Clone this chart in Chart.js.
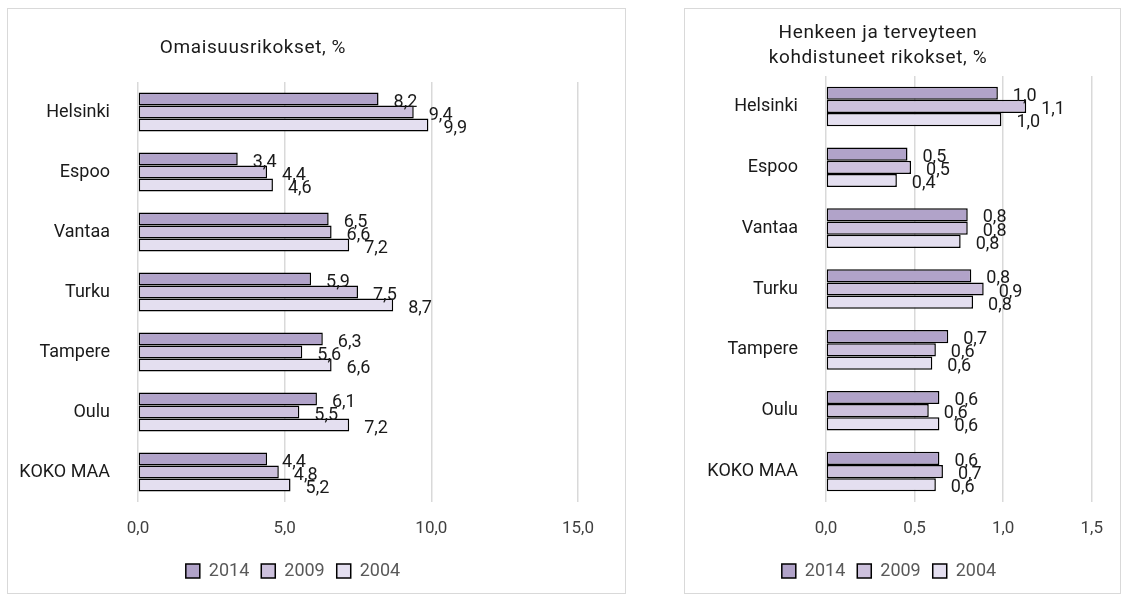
<!DOCTYPE html>
<html><head><meta charset="utf-8">
<script src="https://cdn.jsdelivr.net/npm/chart.js@4/dist/chart.umd.min.js"></script>
<style>
body{margin:0;background:#fff;width:1129px;height:598px;position:relative;overflow:hidden}
.box{position:absolute;border:1px solid #d9d9d9;background:#fff}
#b1{left:7px;top:8px;width:617px;height:584px}
#b2{left:684px;top:8px;width:435px;height:584px}
canvas{display:block}
</style></head><body>
<div class="box" id="b1"><canvas id="c1" width="617" height="584"></canvas></div>
<div class="box" id="b2"><canvas id="c2" width="435" height="584"></canvas></div>
<script>
const categories = ["Helsinki","Espoo","Vantaa","Turku","Tampere","Oulu","KOKO MAA"];
const seriesNames = ["2014","2009","2004"];
const property2014 = [8.2,3.4,6.5,5.9,6.3,6.1,4.4];
const property2009 = [9.4,4.4,6.6,7.5,5.6,5.5,4.8];
const property2004 = [9.9,4.6,7.2,8.7,6.6,7.2,5.2];
const violent2014 = [0.97,0.46,0.80,0.82,0.69,0.64,0.64];
const violent2009 = [1.13,0.48,0.80,0.89,0.62,0.58,0.66];
const violent2004 = [0.99,0.40,0.76,0.83,0.60,0.64,0.62];
const propertyTicks = [0,5,10,15];
const violentTicks = [0,0.5,1,1.5];

const FONT = 'Roboto, "Noto Sans", sans-serif';
const colors = ["#b1a3c9","#cdc1dd","#e4dff0"];
const fmt = v => v.toFixed(1).replace('.', ',');

const labelPlugin = {
  id:'vlabels',
  afterDatasetsDraw(chart){
    const ctx = chart.ctx;
    ctx.save();
    ctx.font = '18px ' + FONT;
    ctx.fillStyle = '#1a1a1a';
    ctx.textAlign = 'left';
    ctx.textBaseline = 'middle';
    chart.data.datasets.forEach((ds,i)=>{
      chart.getDatasetMeta(i).data.forEach((el,j)=>{
        ctx.fillText(fmt(ds.data[j]), el.x + 15, el.y + 3);
      });
    });
    ctx.restore();
  }
};
function titlePlugin(lines, cx, ys){
  return {id:'ttl', afterDraw(chart){
    const ctx = chart.ctx; ctx.save();
    ctx.font = '19px ' + FONT; ctx.fillStyle = '#1a1a1a';
    try{ ctx.letterSpacing = '0.6px'; }catch(e){}
    ctx.textAlign='center'; ctx.textBaseline='middle';
    lines.forEach((l,i)=>ctx.fillText(l, cx, ys[i]));
    ctx.restore();
  }};
}
function make(id, d, ticks, pad, yw, title){
  const datasets = seriesNames.map((n,i)=>({
    label:n, data:d[i], backgroundColor:colors[i], borderColor:'#000',
    borderWidth:1.5, borderSkipped:false, barPercentage:1, categoryPercentage:0.65
  }));
  new Chart(document.getElementById(id), {
    type:'bar',
    data:{labels:categories, datasets},
    options:{
      indexAxis:'y', responsive:false, animation:false,
      layout:{padding:pad},
      plugins:{
        legend:{position:'bottom', labels:{font:{family:FONT,size:18}, color:'#595959', boxWidth:14, boxHeight:14, padding:12}},
        tooltip:{enabled:false}
      },
      scales:{
        x:{min:ticks[0], max:ticks[ticks.length-1],
           afterBuildTicks(s){ s.ticks = ticks.map(v=>({value:v})); },
           afterFit(s){ s.height = 48; },
           grid:{color:'#d9d9d9', drawTicks:false, lineWidth:1.5},
           border:{display:false},
           ticks:{padding:17, color:'#404040', font:{family:FONT,size:17}, callback:v=>fmt(v)}},
        y:{afterFit(s){ s.width = yw; },
           grid:{display:false}, border:{display:false},
           ticks:{padding:20, color:'#1a1a1a', font:{family:FONT,size:18}}}
      }
    },
    plugins:[labelPlugin, title]
  });
}
make('c1', [property2014,property2009,property2004], propertyTicks,
  {left:0,right:47,top:73,bottom:3}, 130,
  titlePlugin(["Omaisuusrikokset, %"], 245, [39]));
make('c2', [violent2014,violent2009,violent2004], violentTicks,
  {left:0,right:27,top:67,bottom:3}, 141,
  titlePlugin(["Henkeen ja terveyteen","kohdistuneet rikokset, %"], 193, [24,49]));
</script>
</body></html>
